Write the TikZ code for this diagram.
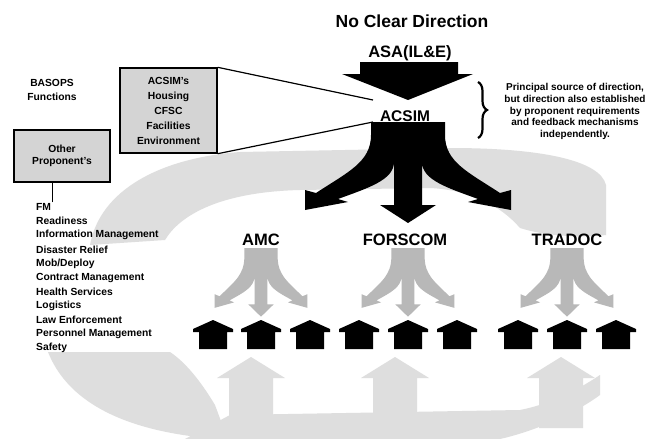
\documentclass[tikz,border=0pt]{standalone}
\usepackage{fontspec}
\setmainfont{Liberation Sans}
\usetikzlibrary{positioning}
\usetikzlibrary{decorations.pathreplacing}

\tikzset{
  big/.style={font=\fontsize{16.5}{18}\selectfont\bfseries},
  small/.style={font=\fontsize{10.3}{12}\selectfont\bfseries},
  haze/.style={fill=black!13},
  pad/.style={draw, line width=1.4pt, fill=black!17, align=center, inner sep=2pt},
  item/.style={small, anchor=west, inner sep=1pt},
  fork/.pic={\path[pic actions] (-37,0) -- (37,0) -- (37,13) .. controls (37,40) and (60,50) .. (92,71)
     -- (103,68) -- (103,88) -- (60,80) -- (70,77) .. controls (40,66) and (14,58) .. (14,40)
     -- (14,83) -- (28,83) -- (0,101) -- (-28,83) -- (-14,83) -- (-14,40)
     .. controls (-14,58) and (-40,66) .. (-70,77) -- (-60,80) -- (-103,88) -- (-103,68)
     -- (-92,71) .. controls (-60,50) and (-37,40) .. (-37,13) -- cycle;}
}

\begin{document}
\begin{tikzpicture}[x=1pt,y=-1pt]
\useasboundingbox (0,0) rectangle (649,439);
\fill[white] (0,0) rectangle (649,439);

% halftone background
\fill[haze] (90,245) .. controls (100,190) and (160,158) .. (240,152) -- (450,148)
  .. controls (540,148) and (600,160) .. (606,185) -- (606,235)
  .. controls (580,238) and (545,236) .. (520,228) .. controls (500,205) and (470,190) .. (430,188)
  -- (300,190) .. controls (220,192) and (180,215) .. (165,240) -- cycle;
\fill[haze] (48,352) .. controls (65,395) and (110,425) .. (190,436) -- (225,432) -- (215,405)
  .. controls (200,380) and (185,362) .. (170,352) -- cycle;
\fill[haze] (185,439) -- (500,439) .. controls (540,430) and (580,410) .. (600,395) -- (600,375)
  .. controls (570,395) and (545,405) .. (520,410) -- (230,415) -- cycle;
\foreach \x in {251,395,561}
  \fill[haze] (\x-22,428) -- (\x-22,378) -- (\x-34,378) -- (\x,357) -- (\x+34,378) -- (\x+22,378) -- (\x+22,428) -- cycle;

% boxes and zoom lines
\node[pad, minimum width=97pt, minimum height=85pt, font=\fontsize{10.3}{15}\selectfont\bfseries] (acsimbox) at (168.5,110.5) {ACSIM's\\Housing\\CFSC\\Facilities\\Environment};
\node[pad, minimum width=96pt, minimum height=52pt, font=\fontsize{10.3}{12}\selectfont\bfseries] (other) at (62,156) {Other\\Proponent's};
\coordinate (zt) at (373,100);
\coordinate (zb) at (373,122);
\draw[line width=1.2pt] (acsimbox.north east) -- (zt);
\draw[line width=1.2pt] (acsimbox.south east) -- (zb);

% direction arrows
\fill (360,62) -- (458,62) -- (458,74) -- (473,74) -- (408,100) -- (342,74) -- (360,74) -- cycle;
\pic[fill=black] at (408,122) {fork};
\foreach \x in {261,408,567}
  \pic[fill=black!28, xscale=0.45, yscale=0.68] at (\x,248) {fork};

% installations
\foreach \x in {213,261,310,359,408,457,518,567,616}
  \fill (\x,320) -- ++(20,9) -- ++(0,3) -- ++(-6,0) -- ++(0,17) -- ++(-28,0) -- ++(0,-17) -- ++(-6,0) -- ++(0,-3) -- cycle;

% labels
\node[font=\fontsize{17.5}{20}\selectfont\bfseries] (title) at (412,21) {No Clear Direction};
\node[big] (asa) at (410,53) {ASA(IL\&E)};
\node[font=\fontsize{15.5}{18}\selectfont\bfseries] (acsim) at (405,116) {ACSIM};
\node[big] (amc) at (261,240) {AMC};
\node[big] (forscom) at (405,240) {FORSCOM};
\node[big] (tradoc) at (567,240) {TRADOC};
\node[font=\fontsize{10.3}{14}\selectfont\bfseries, align=center] (basops) at (52,90) {BASOPS\\Functions};

\draw[decorate, decoration={brace, amplitude=9pt}, line width=2.2pt] (478,82) -- (478,138);
\node[font=\fontsize{10}{11.8}\selectfont\bfseries, align=center] (note) at (575,111.5)
  {Principal source of direction,\\but direction also established\\by proponent requirements\\and feedback mechanisms\\independently.};

\foreach \t [count=\i] in {FM, Readiness, Information Management, Disaster Relief, Mob/Deploy,
    Contract Management, Health Services, Logistics, Law Enforcement, Personnel Management, Safety}
  \node[item] (f\i) at (35,193+14.1*\i) {\t};
\draw[line width=1pt] (f1.north east) -- (f1.north east |- other.south);
\end{tikzpicture}
\end{document}
